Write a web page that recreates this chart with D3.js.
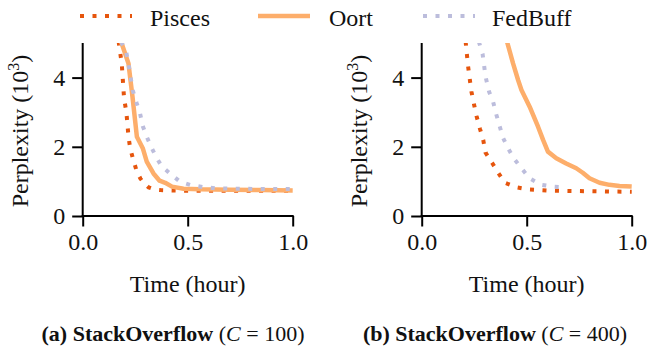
<!DOCTYPE html>
<html>
<head>
<meta charset="utf-8">
<script src="https://cdn.jsdelivr.net/npm/d3@7"></script>
<style>
  html, body { margin: 0; padding: 0; background: #fff; }
  svg { display: block; }
  text { font-family: "Liberation Serif", "DejaVu Serif", serif; fill: #111; }
</style>
</head>
<body>
<svg id="chart" width="647" height="346"></svg>
<script>
// Series names and colours
const seriesNames = ["Pisces", "Oort", "FedBuff"];
const seriesColors = ["#e6550d", "#fdae6b", "#bcbddc"];

// Axis ticks
const xTicks = [0.0, 0.5, 1.0];
const yTicks = [0, 2, 4];

// Panel (a): StackOverflow, C = 100 — [time (hour), perplexity (10^3)]
const piscesC100 = [[0.163,5.4],[0.172,5.0],[0.186,4.4],[0.197,3.4],[0.208,3.0],[0.218,2.3],[0.226,1.96],
  [0.241,1.62],[0.258,1.28],[0.275,1.08],[0.289,0.97],[0.313,0.83],[0.34,0.77],[0.37,0.75],[0.42,0.74],
  [0.5,0.73],[0.6,0.73],[0.7,0.73],[0.8,0.73],[0.9,0.73],[1.0,0.73]];
const oortC100 = [[0.172,5.4],[0.185,5.0],[0.218,4.41],[0.237,3.45],[0.258,2.29],[0.286,1.96],[0.305,1.57],
  [0.337,1.23],[0.366,1.02],[0.393,0.96],[0.425,0.85],[0.48,0.79],[0.56,0.77],[0.7,0.76],[0.85,0.75],[1.0,0.74]];
const fedbuffC100 = [[0.178,5.4],[0.186,5.0],[0.207,4.75],[0.219,4.36],[0.238,3.64],[0.257,3.26],[0.273,2.97],
  [0.286,2.6],[0.305,2.29],[0.329,1.96],[0.353,1.67],[0.377,1.43],[0.425,1.18],[0.464,0.99],[0.512,0.90],
  [0.57,0.84],[0.63,0.80],[0.72,0.79],[0.85,0.78],[1.0,0.78]];

// Panel (b): StackOverflow, C = 400
const piscesC400 = [[0.205,5.4],[0.210,4.99],[0.221,4.32],[0.229,3.95],[0.237,3.59],[0.248,3.26],[0.261,2.89],
  [0.277,2.53],[0.293,2.20],[0.304,1.83],[0.335,1.54],[0.364,1.25],[0.396,0.96],[0.451,0.83],[0.506,0.77],
  [0.625,0.73],[0.75,0.72],[0.875,0.71],[1.0,0.70]];
const oortC400 = [[0.402,5.4],[0.408,5.0],[0.435,4.41],[0.459,3.93],[0.475,3.64],[0.514,3.16],[0.554,2.58],
  [0.578,2.20],[0.601,1.86],[0.641,1.67],[0.688,1.52],[0.736,1.38],[0.767,1.25],[0.799,1.09],[0.847,0.96],
  [0.894,0.90],[0.942,0.87],[1.0,0.85]];
const fedbuffC400 = [[0.268,5.4],[0.274,5.0],[0.290,4.68],[0.304,4.03],[0.321,3.59],[0.340,3.30],[0.356,2.92],
  [0.372,2.58],[0.388,2.25],[0.411,1.96],[0.438,1.67],[0.475,1.38],[0.514,1.09],[0.57,0.90],[0.625,0.85],[0.688,0.83]];

const panels = [
  { left: 82.7, label: "(a)", c: "100", series: [piscesC100, oortC100, fedbuffC100], captionX: 173 },
  { left: 421.7, label: "(b)", c: "400", series: [piscesC400, oortC400, fedbuffC400], captionX: 495 }
];

const svg = d3.select("#chart");
const plotW = 210, plotTop = 43, plotBottom = 216;
const FS = 24;
const dotted = "4,8.5";

panels.forEach((p, i) => {
  const x = d3.scaleLinear().domain([0, 1]).range([p.left, p.left + plotW]);
  const y = d3.scaleLinear().domain([0, 5]).range([plotBottom, plotTop]);
  const g = svg.append("g");

  const clipId = "clip" + i;
  svg.append("clipPath").attr("id", clipId).append("rect")
    .attr("x", p.left).attr("y", plotTop).attr("width", plotW + 10).attr("height", plotBottom - plotTop);

  const line = d3.line().x(d => x(d[0])).y(d => y(d[1]));
  p.series.forEach((data, k) => {
    g.append("path")
      .datum(data)
      .attr("clip-path", `url(#${clipId})`)
      .attr("d", line)
      .attr("fill", "none")
      .attr("stroke", seriesColors[k])
      .attr("stroke-width", k === 1 ? 4.5 : 4)
      .attr("stroke-dasharray", k === 1 ? null : dotted)
      .attr("stroke-linejoin", "round");
  });

  // Axes
  const xAxis = d3.axisBottom(x).tickValues(xTicks).tickFormat(d3.format(".1f")).tickSizeOuter(0).tickSize(10.5).tickPadding(6);
  const yAxis = d3.axisLeft(y).tickValues(yTicks).tickFormat(d3.format("d")).tickSizeOuter(0).tickSize(10.5).tickPadding(7);
  const gx = g.append("g").attr("transform", `translate(0,${plotBottom})`).call(xAxis);
  const gy = g.append("g").attr("transform", `translate(${p.left},0)`).call(yAxis);
  [gx, gy].forEach(a => {
    a.select(".domain").attr("stroke", "#000").attr("stroke-width", 2);
    a.selectAll(".tick line").attr("stroke", "#000").attr("stroke-width", 2);
    a.selectAll(".tick text").attr("font-size", FS).attr("font-family", "Liberation Serif").attr("fill", "#111");
  });
  gx.select(".domain").attr("d", `M${p.left - 1},0H${p.left + plotW + 1}`);
  gy.select(".domain").attr("d", `M0,${plotTop}V${plotBottom + 1}`);

  // Axis titles
  g.append("text").attr("x", p.left + plotW / 2).attr("y", 292).attr("text-anchor", "middle")
    .attr("font-size", FS).text("Time (hour)");
  const yl = g.append("text")
    .attr("transform", `translate(${p.left - 55},131) rotate(-90)`)
    .attr("text-anchor", "middle").attr("font-size", FS);
  yl.append("tspan").text("Perplexity (10");
  yl.append("tspan").attr("font-size", 16).attr("dy", -9).text("3");
  yl.append("tspan").attr("dy", 9).text(")");

  // Caption
  const cap = svg.append("text").attr("x", p.captionX).attr("y", 341)
    .attr("text-anchor", "middle").attr("font-size", 22);
  cap.append("tspan").attr("font-weight", "bold").text(p.label + " StackOverflow");
  cap.append("tspan").text(" (");
  cap.append("tspan").attr("font-style", "italic").text("C");
  cap.append("tspan").text(" = " + p.c + ")");
});

// Legend
const legendX = [80, 258, 423];
const legendTextX = [150, 329, 492];
seriesNames.forEach((name, k) => {
  svg.append("line")
    .attr("x1", legendX[k]).attr("x2", legendX[k] + 52)
    .attr("y1", 16).attr("y2", 16)
    .attr("stroke", seriesColors[k])
    .attr("stroke-width", k === 1 ? 4.5 : 4)
    .attr("stroke-dasharray", k === 1 ? null : dotted);
  svg.append("text").attr("x", legendTextX[k]).attr("y", 26).attr("font-size", FS).text(name);
});
</script>
</body>
</html>
